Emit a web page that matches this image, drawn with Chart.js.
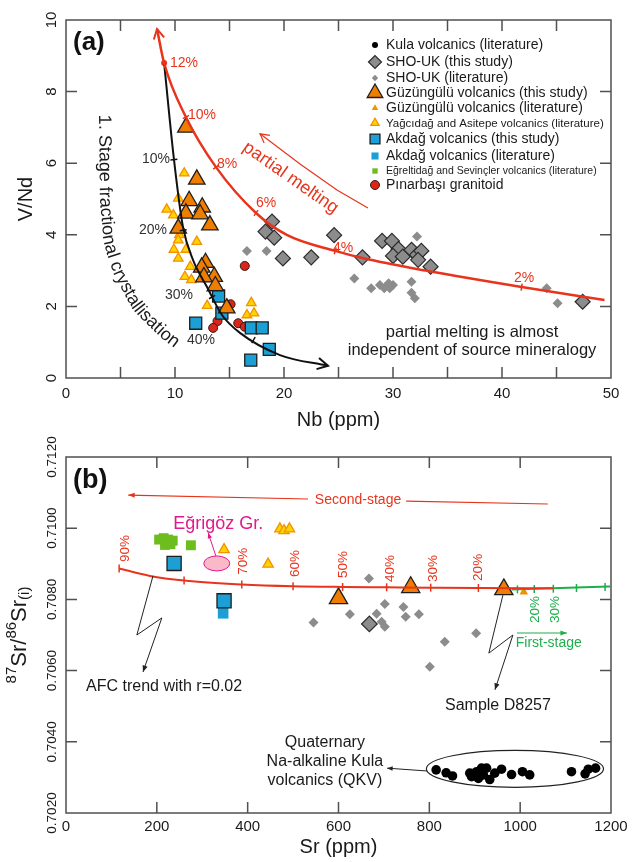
<!DOCTYPE html>
<html><head><meta charset="utf-8">
<script src="https://cdn.jsdelivr.net/npm/chart.js@4.4.1/dist/chart.umd.min.js"></script>
<style>
html,body{margin:0;padding:0;background:#fff;}
#wrap{position:relative;width:633px;height:862px;overflow:hidden;background:#fff;}
#ca{position:absolute;left:0;top:0;}
#cb{position:absolute;left:0;top:410px;}
</style></head><body>
<div id="wrap"><canvas id="ca" width="633" height="440"></canvas><canvas id="cb" width="633" height="452"></canvas></div>
<script>
// ================= Panel (a): Nb (ppm) vs V/Nd =================
const nbTicks = [0,10,20,30,40,50];
const vndTicks = [0,2,4,6,8,10];
const nbMinor = [5,10,15,20,25,30,35,40,45];
const vndMinor = [2,4,6,8];

const shoThisNb  = [18.9,18.3,19.1,19.9,22.5,24.6,27.2,29.0,29.9,30.5,30.0,30.9,31.7,32.2,32.6,32.3,33.45,47.4];
const shoThisVNd = [4.37,4.09,3.92,3.34,3.37,3.99,3.37,3.83,3.83,3.60,3.41,3.39,3.58,3.44,3.55,3.30,3.11,2.13];
const shoLitNb   = [16.6,18.4,26.45,28.0,28.8,29.2,29.6,30.0,29.7,32.2,31.7,31.7,32.0,44.1,45.1];
const shoLitVNd  = [3.55,3.55,2.78,2.51,2.60,2.51,2.65,2.60,2.51,3.95,2.69,2.38,2.23,2.51,2.09];
const guzThisNb  = [11.0,12.0,11.3,12.5,11.0,12.3,13.2,10.3,12.8,12.45,13.6,12.65,13.7,14.75];
const guzThisVNd = [7.0,5.55,4.95,4.77,4.60,4.58,4.27,4.18,3.22,3.09,2.83,2.82,2.57,1.95];
const yagciNb    = [10.85,9.24,9.85,10.3,10.4,10.3,9.9,11.0,12.0,10.3,11.4,10.9,11.5,12.95,17.0,16.6,17.25];
const yagciVNd   = [5.72,4.71,4.55,5.02,4.0,3.85,3.59,3.59,3.81,3.34,3.11,2.83,2.74,2.02,2.10,1.76,1.81];
const akdThisNb  = [14.0,14.3,11.9,17.0,18.0,18.65,16.95];
const akdThisVNd = [2.29,1.81,1.53,1.40,1.40,0.80,0.50];
const pinarNb    = [16.4,15.1,13.9,13.5,15.8,16.4];
const pinarVNd   = [3.13,2.06,1.59,1.40,1.53,1.43];

// partial-melting curve (red) and fractional-crystallisation curve (black)
const meltNb  = [8.35,9.0,11.0,13.76,17.43,20.3,24.7,27.2,33.0,41.8,49.4];
const meltVNd = [9.75,8.8,7.29,5.89,4.61,3.99,3.55,3.35,3.0,2.54,2.18];
const meltTickNb  = [11.0,13.76,17.43,24.7,41.8];
const meltTickVNd = [7.29,5.89,4.61,3.55,2.54];
const meltTickLabels = ['10%','8%','6%','4%','2%'];
const meltStartNb = [9.0], meltStartVNd = [8.8];
const fcNb  = [9.0,9.91,10.73,11.65,12.94,14.31,15.96,19.63,24.04];
const fcVNd = [8.8,6.09,4.22,3.30,2.54,1.76,1.26,0.64,0.34];
const fcTickNb  = [9.9,10.75,13.4,17.2];
const fcTickVNd = [6.1,4.13,2.26,1.06];
const fcTickLabels = ['10%','20%','30%','40%'];

// ================= Panel (b): Sr (ppm) vs 87Sr/86Sr(i) =================
const srTicks = [0,200,400,600,800,1000,1200];
const ratioTicks = [0.702,0.704,0.706,0.708,0.710,0.712];
const srMinor = [200,400,600,800,1000];
const ratioMinor = [0.704,0.706,0.708,0.710];

const kulaSr    = [815,837,851,889,893,904,908,915,919,926,933,944,959,981,1005,1021,1113,1143,1150,1166];
const kulaRatio = [0.70321,0.70313,0.70304,0.70312,0.70302,0.70316,0.70297,0.70326,0.70307,0.70326,0.70294,0.70312,0.70323,0.70308,0.70316,0.70307,0.70316,0.70310,0.70323,0.70326];
const shoThisSr = [668], shoThisRatio = [0.70731];
const shoLitSr    = [545,625,667,684,695,702,743,748,777,801,834,903,702];
const shoLitRatio = [0.70735,0.70758,0.70859,0.70760,0.70737,0.70787,0.70779,0.70751,0.70758,0.70611,0.70681,0.70705,0.70723];
const guzThisSr = [600,759,964], guzThisRatio = [0.70803,0.70834,0.70828];
const guzLitSr = [1008], guzLitRatio = [0.70821];
const yagciSr = [348,445,471,480,492], yagciRatio = [0.70940,0.70899,0.70998,0.70993,0.70998];
const akdThisSr = [238,348], akdThisRatio = [0.70901,0.70796];
const akdLitSr = [346], akdLitRatio = [0.70761];
const egrSr    = [205,215,225,235,218,230,275];
const egrRatio = [0.70968,0.70972,0.70968,0.70965,0.70953,0.70955,0.70952];

const afcSr    = [117,185,260,387,500,609,706,803,908,1073];
const afcRatio = [0.70887,0.70866,0.70853,0.70842,0.70837,0.70835,0.70834,0.70833,0.70832,0.70831];
const afcTickSr    = [117,260,387,500,609,706,803,908];
const afcTickRatio = [0.70887,0.70853,0.70842,0.70837,0.70835,0.70834,0.70833,0.70832];
const afcLabels = ['90%','70%','60%','50%','40%','30%','20%'];
const firstSr = [981,1198], firstRatio = [0.70828,0.70836];
const firstTickSr    = [994,1031,1073,1124,1187];
const firstTickRatio = [0.70828,0.70829,0.70830,0.70832,0.70835];
const firstLabels = ['20%','30%'];

// ================= styles =================
const FONT = '"Liberation Sans", Arial, Helvetica, sans-serif';
Chart.defaults.font.family = FONT;
Chart.defaults.color = '#1a1a1a';
const RED = '#e8341c', GREEN = '#1fae4b', MAG = '#e3198a';
const ST = {
  kula:    {pointStyle:'circle',  bg:'#000000', border:'#000000', bw:0},
  shoThis: {pointStyle:'rectRot', bg:'#8c8c8c', border:'#2b2b2b', bw:1.2},
  shoLit:  {pointStyle:'rectRot', bg:'#8c8c8c', border:'#8c8c8c', bw:0},
  guzThis: {pointStyle:'triangle',bg:'#ef7d00', border:'#1e1e1e', bw:1.3},
  guzLit:  {pointStyle:'triangle',bg:'#f39200', border:'#f39200', bw:0},
  yagci:   {pointStyle:'triangle',bg:'#ffd400', border:'#f39200', bw:1.3},
  akdThis: {pointStyle:'rect',    bg:'#1b9fd4', border:'#1e1e1e', bw:1.3},
  akdLit:  {pointStyle:'rect',    bg:'#1b9fd4', border:'#1b9fd4', bw:0},
  egr:     {pointStyle:'rect',    bg:'#6cbd1d', border:'#6cbd1d', bw:0},
  pinar:   {pointStyle:'circle',  bg:'#d8261c', border:'#3a1a10', bw:1}
};
const zip = (xs, ys) => xs.map((v,i) => ({x:v, y:ys[i]}));
function pts(label, xs, ys, st, r, order){
  return {label, data: zip(xs,ys), pointStyle: st.pointStyle, pointRadius: r,
    pointBackgroundColor: st.bg, pointBorderColor: st.border, pointBorderWidth: st.bw,
    backgroundColor: st.bg, borderColor: st.border, order};
}
function curve(label, xs, ys, color, w, order){
  return {label, data: zip(xs,ys), showLine:true, pointRadius:0, borderColor:color,
    backgroundColor:color, borderWidth:w, cubicInterpolationMode:'monotone', fill:false, order};
}
function ticksDs(label, xs, ys, color, r, rot, order){
  return {label, data: zip(xs,ys), pointStyle:'line', pointRadius:r, pointRotation:rot,
    pointBorderColor:color, pointBorderWidth:1.5, borderColor:color, order};
}

// ================= drawing helpers =================
function markerAt(ctx, st, x, y, r){
  ctx.save();
  ctx.fillStyle = st.bg; ctx.strokeStyle = st.border; ctx.lineWidth = st.bw;
  Chart.helpers.drawPoint(ctx, {pointStyle: st.pointStyle, radius: r, rotation: 0, borderWidth: st.bw}, x, y);
  ctx.restore();
}
function arrowHead(ctx, a, b, len, kind, color, lw){
  const ang = Math.atan2(b[1]-a[1], b[0]-a[0]);
  const sp = kind === 'open' ? 0.5 : 0.38;
  const p1 = [b[0]-len*Math.cos(ang-sp), b[1]-len*Math.sin(ang-sp)];
  const p2 = [b[0]-len*Math.cos(ang+sp), b[1]-len*Math.sin(ang+sp)];
  ctx.beginPath();
  if (kind === 'open'){
    ctx.strokeStyle = color; ctx.lineWidth = lw||1.5;
    ctx.moveTo(p1[0],p1[1]); ctx.lineTo(b[0],b[1]); ctx.lineTo(p2[0],p2[1]); ctx.stroke();
  } else {
    ctx.fillStyle = color;
    ctx.moveTo(b[0],b[1]); ctx.lineTo(p1[0],p1[1]); ctx.lineTo(p2[0],p2[1]); ctx.closePath(); ctx.fill();
  }
}
function textPath(ctx, P, text, font, color){
  ctx.font = font; ctx.fillStyle = color; ctx.textAlign = 'center'; ctx.textBaseline = 'alphabetic';
  const seg = []; let total = 0;
  for (let i = 1; i < P.length; i++){
    const dx = P[i][0]-P[i-1][0], dy = P[i][1]-P[i-1][1], L = Math.hypot(dx,dy);
    seg.push({x:P[i-1][0], y:P[i-1][1], dx, dy, L, s:total}); total += L;
  }
  let s = 0;
  for (const ch of text){
    const w = ctx.measureText(ch).width, m = s + w/2;
    const g = seg.find(q => m <= q.s + q.L) || seg[seg.length-1];
    const t = (m - g.s)/g.L;
    let ang = Math.atan2(g.dy, g.dx);
    const gi = seg.indexOf(g);
    if (t > 0.5 && gi < seg.length-1){ const n = seg[gi+1]; const a2 = Math.atan2(n.dy,n.dx); ang = ang + (a2-ang)*(t-0.5); }
    else if (t < 0.5 && gi > 0){ const p = seg[gi-1]; const a0 = Math.atan2(p.dy,p.dx); ang = ang + (a0-ang)*(0.5-t); }
    ctx.save(); ctx.translate(g.x + g.dx*t, g.y + g.dy*t); ctx.rotate(ang); ctx.fillText(ch, 0, 0); ctx.restore();
    s += w;
  }
}

function makeFrame(xMinor, yMinor, len){
  return {
    id: 'frameTicks',
    afterDatasetsDraw(chart){
      const {ctx, chartArea: a, scales: {x, y}} = chart;
      ctx.save();
      ctx.strokeStyle = '#505050'; ctx.lineWidth = 1.5;
      ctx.strokeRect(a.left, a.top, a.right - a.left, a.bottom - a.top);
      ctx.beginPath();
      xMinor.forEach(v => { const p = x.getPixelForValue(v);
        ctx.moveTo(p, a.bottom); ctx.lineTo(p, a.bottom - len); ctx.moveTo(p, a.top); ctx.lineTo(p, a.top + len); });
      yMinor.forEach(v => { const p = y.getPixelForValue(v);
        ctx.moveTo(a.left, p); ctx.lineTo(a.left + len, p); ctx.moveTo(a.right, p); ctx.lineTo(a.right - len, p); });
      ctx.stroke(); ctx.restore();
    }
  };
}

function makeNotes(items){
  return {
    id: 'notes',
    afterDatasetsDraw(chart){
      const {ctx, scales: {x, y}, chartArea: area} = chart;
      const X = v => x.getPixelForValue(v), Y = v => y.getPixelForValue(v);
      for (const it of items){
        ctx.save();
        if (it.type === 'text'){
          ctx.font = it.font; ctx.fillStyle = it.color || '#1a1a1a';
          ctx.textAlign = it.align || 'center'; ctx.textBaseline = it.baseline || 'middle';
          ctx.translate(X(it.x), Y(it.y)); if (it.rot) ctx.rotate(it.rot*Math.PI/180);
          ctx.fillText(it.text, 0, 0);
        } else if (it.type === 'poly'){
          const P = it.pts.map(p => [X(p[0]), Y(p[1])]);
          ctx.strokeStyle = it.color; ctx.lineWidth = it.width || 1;
          ctx.beginPath(); P.forEach((p,i) => i ? ctx.lineTo(p[0],p[1]) : ctx.moveTo(p[0],p[1])); ctx.stroke();
          if (it.head) arrowHead(ctx, P[P.length-2], P[P.length-1], it.headLen || 8, it.head, it.color, it.width);
        } else if (it.type === 'ellipse'){
          const cx = X(it.x), cy = Y(it.y);
          const rx = Math.abs(X(it.x + it.rx) - cx), ry = Math.abs(Y(it.y + it.ry) - cy);
          ctx.beginPath(); ctx.ellipse(cx, cy, rx, ry, 0, 0, Math.PI*2);
          if (it.fill){ ctx.fillStyle = it.fill; ctx.fill(); }
          ctx.strokeStyle = it.stroke; ctx.lineWidth = it.width || 1; ctx.stroke();
        } else if (it.type === 'textPath'){
          textPath(ctx, it.pts.map(p => [X(p[0]), Y(p[1])]), it.text, it.font, it.color);
        } else if (it.type === 'curveArrow'){
          const m = chart.getDatasetMeta(it.ds).data, n = m.length;
          const a = it.end === 'start' ? m[1] : m[n-2], b = it.end === 'start' ? m[0] : m[n-1];
          arrowHead(ctx, [a.x, a.y], [b.x, b.y], it.len, 'open', it.color, it.width);
        } else if (it.type === 'legend'){
          it.items.forEach((li, i) => {
            const yy = it.rows[i];
            markerAt(ctx, li.st, it.mx, yy, li.r);
            ctx.font = li.size + 'px ' + FONT; ctx.fillStyle = '#1a1a1a';
            ctx.textAlign = 'left'; ctx.textBaseline = 'middle';
            ctx.fillText(li.label, it.tx, yy + 0.5);
          });
        } else if (it.type === 'srTitle'){
          const cy = (area.top + area.bottom)/2;
          const parts = [['87',15,-8],['Sr/',22,0],['86',15,-8],['Sr',22,0],['(i)',15,5]];
          let tot = 0;
          parts.forEach(p => { ctx.font = p[1] + 'px ' + FONT; tot += ctx.measureText(p[0]).width; });
          ctx.translate(it.cx, cy); ctx.rotate(-Math.PI/2);
          ctx.fillStyle = '#1a1a1a'; ctx.textAlign = 'left'; ctx.textBaseline = 'middle';
          let px = -tot/2;
          parts.forEach(p => { ctx.font = p[1] + 'px ' + FONT; ctx.fillText(p[0], px, p[2]); px += ctx.measureText(p[0]).width; });
        }
        ctx.restore();
      }
    }
  };
}

const f = (s, b) => (b ? 'bold ' : '') + s + 'px ' + FONT;

// ================= chart (a) =================
const legendItems = [
  {label:'Kula volcanics (literature)', st:ST.kula, r:3, size:14},
  {label:'SHO-UK (this study)', st:ST.shoThis, r:6.5, size:14},
  {label:'SHO-UK (literature)', st:ST.shoLit, r:3.2, size:14},
  {label:'Güzüngülü volcanics (this study)', st:ST.guzThis, r:9, size:14},
  {label:'Güzüngülü volcanics (literature)', st:ST.guzLit, r:3.8, size:14},
  {label:'Yağcıdağ and Asitepe volcanics (literature)', st:ST.yagci, r:4.8, size:11.5},
  {label:'Akdağ volcanics (this study)', st:ST.akdThis, r:7, size:14},
  {label:'Akdağ volcanics (literature)', st:ST.akdLit, r:5, size:14},
  {label:'Eğreltidağ and Sevinçler volcanics (literature)', st:ST.egr, r:3.8, size:10.5},
  {label:'Pınarbaşı granitoid', st:ST.pinar, r:4.5, size:14}
];

const notesA = [
  {type:'text', x:0.64, y:9.36, text:'(a)', font:f(26,true), color:'#111', align:'left'},
  {type:'text', x:9.54, y:8.80, text:'12%', font:f(14), color:RED, align:'left'},
  ...meltTickLabels.map((t,i) => ({type:'text', x:[11.19,13.85,17.43,24.5,41.1][i], y:[7.35,5.98,4.89,3.63,2.79][i], text:t, font:f(14), color:RED, align:'left'})),
  ...fcTickLabels.map((t,i) => ({type:'text', x:[9.54,9.27,11.65,13.67][i], y:[6.12,4.13,2.32,1.06][i], text:t, font:f(14), color:'#333', align:'right'})),
  {type:'poly', pts:[[27.7,4.75],[24.86,5.25],[21.47,5.98],[17.8,6.82]], color:RED, width:1.2, head:'open', headLen:10},
  {type:'text', x:20.6, y:5.59, text:'partial melting', font:f(18), color:RED, rot:35},
  {type:'textPath', pts:[[3.03,7.35],[3.12,4.97],[3.49,3.72],[4.40,2.88],[6.15,1.90],[8.72,1.12],[10.73,0.67]],
    text:'1. Stage fractional crystallisation', font:f(18), color:'#1a1a1a'},
  {type:'text', x:37.25, y:1.28, text:'partial melting is almost', font:f(16.5)},
  {type:'text', x:37.25, y:0.78, text:'independent of source mineralogy', font:f(16.5)},
  {type:'curveArrow', ds:0, end:'start', color:RED, width:2, len:11},
  {type:'curveArrow', ds:1, end:'end', color:'#111', width:2, len:12},
  {type:'legend', items:legendItems, mx:375, tx:386, rows:[45,62,78,93,108,123,139,156,171,185]}
];

new Chart(document.getElementById('ca'), {
  type: 'scatter',
  data: { datasets: [
    curve('Partial melting', meltNb, meltVNd, RED, 2.5, 0),
    curve('1. Stage fractional crystallisation', fcNb, fcVNd, '#111', 2, 1),
    ticksDs('melt ticks', meltTickNb, meltTickVNd, RED, 3.5, [153,144,125,106,98], 2),
    {label:'12%', data: zip(meltStartNb, meltStartVNd), pointRadius:3, pointStyle:'circle', pointBackgroundColor:RED, pointBorderWidth:0, order:2},
    ticksDs('fc ticks', fcTickNb, fcTickVNd, '#111', 3.5, [-6,-8,-28,-61], 2),
    pts('Güzüngülü volcanics (this study)', guzThisNb, guzThisVNd, ST.guzThis, 9.5, 3),
    pts('Akdağ volcanics (this study)', akdThisNb, akdThisVNd, ST.akdThis, 8.5, 4),
    pts('Pınarbaşı granitoid', pinarNb, pinarVNd, ST.pinar, 4.5, 5),
    pts('Yağcıdağ and Asitepe volcanics (literature)', yagciNb, yagciVNd, ST.yagci, 5.5, 6),
    pts('SHO-UK (this study)', shoThisNb, shoThisVNd, ST.shoThis, 7.5, 7),
    pts('SHO-UK (literature)', shoLitNb, shoLitVNd, ST.shoLit, 5, 8)
  ]},
  options: {
    responsive:false, animation:false, devicePixelRatio:1, events:[],
    layout:{padding:{top:20, right:22, bottom:0, left:0}},
    plugins:{ legend:{display:false}, tooltip:{enabled:false} },
    scales:{
      x:{ type:'linear', min:0, max:50,
        afterBuildTicks: s => { s.ticks = nbTicks.map(v => ({value:v})); },
        afterFit: s => { s.height = 62; },
        grid:{display:false, drawTicks:false}, border:{display:false},
        ticks:{font:{size:15}, color:'#1a1a1a', padding:7, autoSkip:false, maxRotation:0, callback: v => String(v)},
        title:{display:true, text:'Nb (ppm)', font:{size:20}, color:'#1a1a1a', padding:{top:0,bottom:8}} },
      y:{ type:'linear', min:0, max:10,
        afterBuildTicks: s => { s.ticks = vndTicks.map(v => ({value:v})); },
        afterFit: s => { s.width = 66; },
        grid:{display:false, drawTicks:false}, border:{display:false},
        ticks:{font:{size:15}, color:'#1a1a1a', padding:6, autoSkip:false, minRotation:90, maxRotation:90, crossAlign:'center', callback: v => String(v)},
        title:{display:true, text:'V/Nd', font:{size:20}, color:'#1a1a1a', padding:{top:14,bottom:0}} }
    }
  },
  plugins:[makeFrame(nbMinor, vndMinor, 11), makeNotes(notesA)]
});

// ================= chart (b) =================
const afcLabelSr = [130,390,504,610,713,808,907];
const afcLabelRatio = [0.70905,0.70869,0.70863,0.7086,0.70849,0.70849,0.70852];
const notesB = [
  {type:'text', x:15.4, y:0.71135, text:'(b)', font:f(27,true), color:'#111', align:'left'},
  {type:'poly', pts:[[533,0.71082],[137,0.71093]], color:RED, width:1.2, head:'filled', headLen:7},
  {type:'poly', pts:[[749,0.71076],[1061,0.71068]], color:RED, width:1.2},
  {type:'text', x:643, y:0.71079, text:'Second-stage', font:f(14), color:RED},
  {type:'text', x:335, y:0.71012, text:'Eğrigöz Gr.', font:f(18), color:MAG},
  {type:'ellipse', x:332, y:0.70901, rx:28.6, ry:0.00021, fill:'#f9b9c8', stroke:MAG, width:1},
  {type:'poly', pts:[[330,0.70922],[313,0.70987]], color:MAG, width:1, head:'filled', headLen:6},
  ...afcLabels.map((t,i) => ({type:'text', x:afcLabelSr[i], y:afcLabelRatio[i], text:t, font:f(13.5), color:RED, align:'left', rot:-90})),
  ...firstLabels.map((t,i) => ({type:'text', x:[1033,1077][i], y:0.70734, text:t, font:f(13.5), color:GREEN, align:'left', rot:-90})),
  {type:'poly', pts:[[191.5,0.70866],[156,0.707],[211,0.70748],[169.5,0.70596]], color:'#222', width:1, head:'filled', headLen:7},
  {type:'text', x:216, y:0.70554, text:'AFC trend with r=0.02', font:f(16)},
  {type:'poly', pts:[[962,0.70812],[931,0.70649],[984,0.707],[944.5,0.70546]], color:'#222', width:1, head:'filled', headLen:7},
  {type:'text', x:951, y:0.70501, text:'Sample D8257', font:f(16)},
  {type:'poly', pts:[[993,0.707056],[1103,0.707056]], color:GREEN, width:1.2, head:'filled', headLen:7},
  {type:'text', x:1063, y:0.706775, text:'First-stage', font:f(14), color:GREEN},
  {type:'ellipse', x:988.5, y:0.70324, rx:195, ry:0.00052, fill:null, stroke:'#222', width:1.2},
  {type:'poly', pts:[[795,0.70318],[707,0.70326]], color:'#222', width:1, head:'filled', headLen:6},
  {type:'text', x:570, y:0.70397, text:'Quaternary', font:f(16)},
  {type:'text', x:570, y:0.70343, text:'Na-alkaline Kula', font:f(16)},
  {type:'text', x:570, y:0.70290, text:'volcanics (QKV)', font:f(16)},
  {type:'srTitle', cx:20}
];

new Chart(document.getElementById('cb'), {
  type: 'scatter',
  data: { datasets: [
    curve('AFC trend', afcSr, afcRatio, RED, 2, 0),
    curve('First-stage', firstSr, firstRatio, GREEN, 2, 1),
    ticksDs('AFC ticks', afcTickSr, afcTickRatio, RED, 4, 90, 0),
    ticksDs('First-stage ticks', firstTickSr, firstTickRatio, GREEN, 4, 90, 1),
    pts('Güzüngülü volcanics (this study)', guzThisSr, guzThisRatio, ST.guzThis, 10.5, 2),
    pts('Güzüngülü volcanics (literature)', guzLitSr, guzLitRatio, ST.guzLit, 5, 3),
    pts('Akdağ volcanics (this study)', akdThisSr, akdThisRatio, ST.akdThis, 10, 4),
    pts('Akdağ volcanics (literature)', akdLitSr, akdLitRatio, ST.akdLit, 7.5, 5),
    pts('Yağcıdağ and Asitepe volcanics (literature)', yagciSr, yagciRatio, ST.yagci, 6, 6),
    pts('Eğreltidağ and Sevinçler volcanics (literature)', egrSr, egrRatio, ST.egr, 7, 7),
    pts('SHO-UK (this study)', shoThisSr, shoThisRatio, ST.shoThis, 7.8, 8),
    pts('SHO-UK (literature)', shoLitSr, shoLitRatio, ST.shoLit, 5, 9),
    pts('Kula volcanics (literature)', kulaSr, kulaRatio, ST.kula, 4.8, 10)
  ]},
  options: {
    responsive:false, animation:false, devicePixelRatio:1, events:[],
    layout:{padding:{top:47, right:22, bottom:0, left:0}},
    plugins:{ legend:{display:false}, tooltip:{enabled:false} },
    scales:{
      x:{ type:'linear', min:0, max:1200,
        afterBuildTicks: s => { s.ticks = srTicks.map(v => ({value:v})); },
        afterFit: s => { s.height = 49; },
        grid:{display:false, drawTicks:false}, border:{display:false},
        ticks:{font:{size:15}, color:'#1a1a1a', padding:5, autoSkip:false, maxRotation:0, callback: v => String(v)},
        title:{display:true, text:'Sr (ppm)', font:{size:20}, color:'#1a1a1a', padding:{top:0,bottom:3}} },
      y:{ type:'linear', min:0.702, max:0.712,
        afterBuildTicks: s => { s.ticks = ratioTicks.map(v => ({value:v})); },
        afterFit: s => { s.width = 66; },
        grid:{display:false, drawTicks:false}, border:{display:false},
        ticks:{font:{size:13.5}, color:'#1a1a1a', padding:-7, autoSkip:false, minRotation:90, maxRotation:90, crossAlign:'center', callback: v => Number(v).toFixed(4)},
        title:{display:false} }
    }
  },
  plugins:[makeFrame(srMinor, ratioMinor, 11), makeNotes(notesB)]
});
</script>
</body></html>
